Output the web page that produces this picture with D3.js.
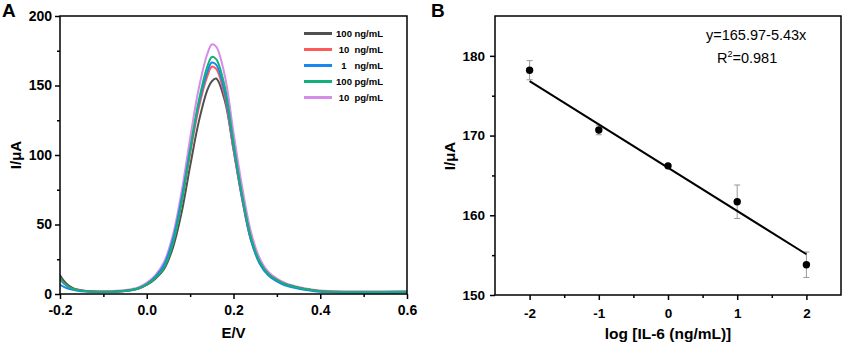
<!DOCTYPE html>
<meta charset="UTF-8"/>
<svg width="844" height="347"></svg>
<script src="https://d3js.org/d3.v7.min.js"></script>
<style>
  body { margin: 0; background: #fff; }
  * { font-family: 'Liberation Sans', Arial, sans-serif; }
</style>
<script>
// ---- panel A: DPV curves ----
var potential = [-0.2,-0.19,-0.18,-0.17,-0.16,-0.14,-0.12,-0.1,-0.08,-0.05,-0.02,0,0.02,0.04,0.06,0.08,0.1,0.12,0.14,0.15,0.16,0.18,0.2,0.22,0.24,0.26,0.28,0.3,0.32,0.35,0.38,0.4,0.45,0.5,0.55,0.6];
var cur100ng = [13.5,9,6,4.2,3.2,2.2,1.8,1.6,1.7,2.2,3.8,6.5,11,18,33,58,92,124,147,153,155,139,104,69,40,23,14.5,10,7,4.5,2.8,2,1.4,1.3,1.3,1.4];
var cur10ng  = [11,7.5,5,3.6,2.8,2,1.7,1.6,1.7,2.3,4,7,12,20,37,65,101,134,157,163.5,162,142,104,68,39,23,14.5,10,7,4.5,2.8,2,1.5,1.4,1.4,1.5];
var cur1ng   = [6.5,5,3.8,3,2.4,1.8,1.5,1.4,1.5,2.2,4,7.2,12.5,21,39,68,104,137,160,166.5,165,145,106,69,39,22,13.5,9,6,3.8,2.3,1.6,1.1,1,1,1.1];
var cur100pg = [11,7.5,5,3.6,2.8,2,1.7,1.6,1.7,2.3,4,6.8,11.5,19,36,65,103,139,164,170.5,169,149,109,71,41,23.5,14.5,10,7,4.5,2.8,2,1.5,1.5,1.5,1.6];
var cur10pg  = [10.5,7.2,5,3.7,2.9,2.2,1.9,1.9,2.1,2.9,4.8,8,13.5,23,42,73,112,148,173,179.5,178,157,116,77,45,26,16,11,7.8,5,3.2,2.5,2,2,2,2.2];
var seriesNames  = ["100 ng/mL", "10  ng/mL", "1   ng/mL", "100 pg/mL", "10  pg/mL"];
var seriesColors = ["#505050", "#ff5a5a", "#1c86f0", "#12b07a", "#d68ce8"];
var xTicksA = [-0.2, 0.0, 0.2, 0.4, 0.6];
var yTicksA = [0, 50, 100, 150, 200];

// ---- panel B: calibration ----
var logConc  = [-2, -1, 0, 1, 2];
var peakI    = [178.2, 170.7, 166.2, 161.7, 153.8];
var errI     = [1.2, 0.6, 0.2, 2.1, 1.6];
var fitCoef  = [165.97, -5.43];
var xTicksB = [-2, -1, 0, 1, 2];
var yTicksB = [150, 160, 170, 180];

var svg = d3.select("svg");

// plain hyphen instead of the unicode minus d3 puts in
function fmt(spec) {
  var f = d3.format(spec);
  return function(d) { return f(d).replace("\u2212", "-"); };
}

function styleAxis(g, size) {
  g.select(".domain").remove();
  g.selectAll("line").attr("stroke", "#000").attr("stroke-width", 1.5);
  g.selectAll("text").attr("fill", "#000").style("font-size", size + "px").style("font-weight", "bold");
}

function frame(g, w, h) {
  g.append("rect").attr("x", 0).attr("y", 0).attr("width", w).attr("height", h)
    .attr("fill", "none").attr("stroke", "#000").attr("stroke-width", 1.5);
}

// ---------------- Panel A ----------------
var A = {left: 60, top: 16, w: 347, h: 278};
var gA = svg.append("g").attr("transform", "translate(" + A.left + "," + A.top + ")");
var xA = d3.scaleLinear().domain([-0.2, 0.6]).range([0, A.w]);
var yA = d3.scaleLinear().domain([0, 200]).range([A.h, 0]);

gA.append("clipPath").attr("id", "clipA").append("rect")
  .attr("width", A.w).attr("height", A.h);

var curves = [cur100ng, cur10ng, cur1ng, cur100pg, cur10pg];
var line = d3.line().curve(d3.curveCatmullRom.alpha(0.5))
  .x(function(d, i) { return xA(potential[i]); })
  .y(function(d) { return yA(d); });

[4, 0, 1, 2, 3].forEach(function(k) {
  gA.append("path").datum(curves[k])
    .attr("clip-path", "url(#clipA)")
    .attr("fill", "none").attr("stroke", seriesColors[k]).attr("stroke-width", 2)
    .attr("d", line);
});

// minor ticks
gA.append("g").attr("transform", "translate(0," + A.h + ")")
  .call(d3.axisBottom(xA).tickValues([-0.1, 0.1, 0.3, 0.5]).tickSize(3).tickFormat(""))
  .call(function(g) { styleAxis(g, 13); });
gA.append("g")
  .call(d3.axisLeft(yA).tickValues([25, 75, 125, 175]).tickSize(3).tickFormat(""))
  .call(function(g) { styleAxis(g, 13); });

gA.append("g").attr("transform", "translate(0," + A.h + ")")
  .call(d3.axisBottom(xA).tickValues(xTicksA).tickSize(5).tickPadding(6).tickFormat(fmt(".1f")))
  .call(function(g) { styleAxis(g, 14); });
gA.append("g")
  .call(d3.axisLeft(yA).tickValues(yTicksA).tickSize(5).tickPadding(3))
  .call(function(g) { styleAxis(g, 14); });
frame(gA, A.w, A.h);

// legend
var leg = gA.append("g");
seriesNames.forEach(function(name, i) {
  var yy = 17.5 + i * 16;
  leg.append("line").attr("x1", 244).attr("x2", 272).attr("y1", yy).attr("y2", yy)
    .attr("stroke", seriesColors[i]).attr("stroke-width", 3);
  var parts = name.split(/\s+/);
  leg.append("text").attr("x", 284).attr("y", yy).attr("dy", "0.35em")
    .attr("text-anchor", "middle").style("font-size", "9.5px").style("font-weight", "bold")
    .text(parts[0]);
  leg.append("text").attr("x", 323).attr("y", yy).attr("dy", "0.35em")
    .attr("text-anchor", "end").style("font-size", "9.5px").style("font-weight", "bold")
    .text(parts[1]);
});

svg.append("text").attr("x", 2).attr("y", 17).style("font-size", "19px").style("font-weight", "bold").text("A");
svg.append("text").attr("transform", "translate(21,155) rotate(-90)").attr("text-anchor", "middle")
  .style("font-size", "15px").style("font-weight", "bold").text("I/μA");
svg.append("text").attr("x", A.left + xA(0.2)).attr("y", 338).attr("text-anchor", "middle")
  .style("font-size", "15px").style("font-weight", "bold").text("E/V");

// ---------------- Panel B ----------------
var B = {left: 495, top: 16, w: 346, h: 279};
var gB = svg.append("g").attr("transform", "translate(" + B.left + "," + B.top + ")");
var xB = d3.scaleLinear().domain([-2.5, 2.5]).range([0, B.w]);
var yB = d3.scaleLinear().domain([150, 185]).range([B.h, 0]);

gB.append("g").attr("transform", "translate(0," + B.h + ")")
  .call(d3.axisBottom(xB).tickValues([-1.5, -0.5, 0.5, 1.5]).tickSize(3).tickFormat(""))
  .call(function(g) { styleAxis(g, 13); });
gB.append("g")
  .call(d3.axisLeft(yB).tickValues([155, 165, 175]).tickSize(3).tickFormat(""))
  .call(function(g) { styleAxis(g, 13); });
gB.append("g").attr("transform", "translate(0," + B.h + ")")
  .call(d3.axisBottom(xB).tickValues(xTicksB).tickSize(5).tickPadding(8).tickFormat(fmt("d")))
  .call(function(g) { styleAxis(g, 13.5); });
gB.append("g")
  .call(d3.axisLeft(yB).tickValues(yTicksB).tickSize(5).tickPadding(5))
  .call(function(g) { styleAxis(g, 13.5); });
frame(gB, B.w, B.h);

// error bars
logConc.forEach(function(c, i) {
  var x = xB(c), y0 = yB(peakI[i] - errI[i]), y1 = yB(peakI[i] + errI[i]);
  var eb = gB.append("g").attr("stroke", "#999").attr("stroke-width", 1);
  eb.append("line").attr("x1", x).attr("x2", x).attr("y1", y0).attr("y2", y1);
  eb.append("line").attr("x1", x - 3).attr("x2", x + 3).attr("y1", y0).attr("y2", y0);
  eb.append("line").attr("x1", x - 3).attr("x2", x + 3).attr("y1", y1).attr("y2", y1);
});

// fit line
var xr = d3.extent(logConc);
gB.append("line")
  .attr("x1", xB(xr[0])).attr("y1", yB(fitCoef[0] + fitCoef[1] * xr[0]))
  .attr("x2", xB(xr[1])).attr("y2", yB(fitCoef[0] + fitCoef[1] * xr[1]))
  .attr("stroke", "#000").attr("stroke-width", 2);

gB.selectAll("circle").data(logConc).enter().append("circle")
  .attr("cx", function(d) { return xB(d); })
  .attr("cy", function(d, i) { return yB(peakI[i]); })
  .attr("r", 3.7).attr("fill", "#000");

svg.append("text").attr("x", 706).attr("y", 40).style("font-size", "14.5px")
  .text("y=165.97-5.43x");
var r2 = svg.append("text").attr("x", 717).attr("y", 63).style("font-size", "14.5px");
r2.append("tspan").text("R");
r2.append("tspan").attr("dy", -6).style("font-size", "9px").text("2");
r2.append("tspan").attr("dy", 6).text("=0.981");

svg.append("text").attr("x", 431).attr("y", 17).style("font-size", "19px").style("font-weight", "bold").text("B");
svg.append("text").attr("transform", "translate(455,156) rotate(-90)").attr("text-anchor", "middle")
  .style("font-size", "15px").style("font-weight", "bold").text("I/μA");
svg.append("text").attr("x", B.left + xB(0)).attr("y", 339).attr("text-anchor", "middle")
  .style("font-size", "15.5px").style("font-weight", "bold").text("log [IL-6 (ng/mL)]");
</script>
